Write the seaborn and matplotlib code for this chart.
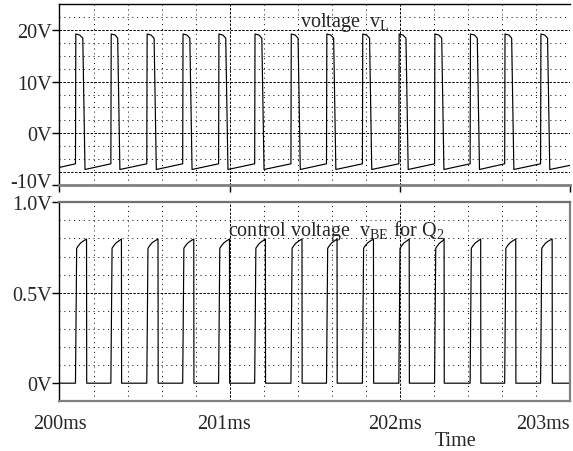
import numpy as np
import pandas as pd
import seaborn as sns
import matplotlib
matplotlib.use("Agg")
import matplotlib.pyplot as plt
from matplotlib import transforms

# ---------------- data ----------------
# pulse rise instants (ms)
rise_ms = [200.094, 200.302, 200.513, 200.724, 200.935, 201.147, 201.360,
           201.569, 201.780, 201.994, 202.204, 202.413, 202.616, 202.827]
# end of falling edge of v_L (ms)
vL_fall_ms = [200.150, 200.355, 200.569, 200.779, 200.990, 201.202, 201.415,
              201.624, 201.835, 202.049, 202.259, 202.468, 202.670, 202.881]
# end of v_BE pulse (ms)
vBE_fall_ms = [200.160, 200.365, 200.580, 200.790, 201.000, 201.211, 201.426,
               201.632, 201.846, 202.056, 202.261, 202.476, 202.682, 202.896]

# v_L levels (V)
vL_start = -6.6          # value at 200 ms
vL_end = -6.2            # value at 203 ms
vL_low_start = -7.0      # right after the falling edge
vL_low_end = -5.9        # just before the rising edge
vL_top = [19.2, 19.0, 18.4]   # plateau: start, middle, before fall
vL_top_dt = [0.002, 0.025]    # plateau timing after rise (ms)
vL_fall_dt = 0.013            # duration of falling edge (ms)

# v_BE pulse shape (V) and timing after rise (ms)
vBE_levels = [0.746, 0.760, 0.775, 0.786, 0.797]
vBE_dt = [0.007, 0.017, 0.030, 0.046]

x_ticks = [200, 201, 202, 203]
x_labels = ["200ms", "201ms", "202ms", "203ms"]
vL_ticks = [-10, 0, 10, 20]
vL_labels = ["-10V", "0V", "10V", "20V"]
vBE_ticks = [0.0, 0.5, 1.0]
vBE_labels = ["0V", "0.5V", "1.0V"]

# ---------------- build waveforms ----------------
tL, vL = [200.0], [vL_start]
for r, f in zip(rise_ms, vL_fall_ms):
    tL += [r, r + vL_top_dt[0], r + vL_top_dt[1], f - vL_fall_dt, f]
    vL += [vL_low_end, vL_top[0], vL_top[1], vL_top[2], vL_low_start]
tL.append(203.0)
vL.append(vL_end)
dfL = pd.DataFrame({"t": tL, "v": vL})

tB, vB = [200.0], [0.0]
for r, f in zip(rise_ms, vBE_fall_ms):
    tB += [r] + [r + d for d in vBE_dt] + [f - 0.001, f]
    vB += [0.0] + vBE_levels[:4] + [vBE_levels[4], 0.0]
tB.append(203.0)
vB.append(0.0)
dfB = pd.DataFrame({"t": tB, "v": vB})

# ---------------- styling ----------------
sns.set_theme(style="white")
plt.rcParams.update({
    "font.family": ["Liberation Serif", "DejaVu Serif"],
    "mathtext.fontset": "custom",
    "mathtext.rm": "Liberation Serif",
    "mathtext.it": "Liberation Serif:italic",
    "mathtext.bf": "Liberation Serif:bold",
    "axes.facecolor": "white",
    "figure.facecolor": "white",
})

FS = 14.5
fig = plt.figure(figsize=(5.73, 4.52), dpi=100)
ax1 = fig.add_axes([0.1038, 0.5885, 0.8910, 0.4004])
ax2 = fig.add_axes([0.1038, 0.1100, 0.8910, 0.4402])

major_kw = dict(color="black", lw=0.7, dashes=(2.5, 1.5), zorder=1)
minor_kw = dict(color="black", lw=0.7, dashes=(1.0, 4.0), zorder=1)

for ax in (ax1, ax2):
    ax.set_xlim(200, 203)
    for i in range(1, 15):
        xv = 200 + 0.2 * i
        if i % 5 == 0:
            ax.axvline(xv, **major_kw)
        else:
            ax.axvline(xv, **minor_kw)

# top panel horizontal grid
ax1.set_ylim(-10, 25)
for yv in [-7.5, -5, -2.5, 2.5, 5, 7.5, 12.5, 15, 17.5, 22.5]:
    if yv == -7.5:
        ax1.axhline(yv, **major_kw)
    else:
        ax1.axhline(yv, **minor_kw)
for yv in [0, 10, 20]:
    ax1.axhline(yv, **major_kw)

# bottom panel horizontal grid
ax2.set_ylim(-0.1, 1.0)
for k in range(1, 10):
    yv = k / 10
    if k == 5:
        ax2.axhline(yv, **major_kw)
    else:
        ax2.axhline(yv, **minor_kw)

sns.lineplot(data=dfL, x="t", y="v", ax=ax1, sort=False, estimator=None,
             color="black", lw=0.85, zorder=3)
sns.lineplot(data=dfB, x="t", y="v", ax=ax2, sort=False, estimator=None,
             color="black", lw=0.85, zorder=3)

for ax in (ax1, ax2):
    ax.set_xlabel("")
    ax.set_ylabel("")
    ax.grid(False)

# ticks top
ax1.set_xticks(x_ticks)
ax1.set_xticklabels([])
ax1.tick_params(axis="x", direction="out", length=5.2, width=1, color="black",
                bottom=True)
ax1.set_yticks(vL_ticks)
ax1.set_yticklabels(vL_labels, fontsize=FS)
ax1.tick_params(axis="y", direction="out", length=4.8, width=1, color="black",
                pad=0.5, left=True)
# shift the -10V label up slightly as in the reference
lab = ax1.get_yticklabels()[0]
lab.set_transform(lab.get_transform() +
                  transforms.ScaledTranslation(0, 5 / 100, fig.dpi_scale_trans))

# ticks bottom
ax2.set_xticks(x_ticks)
ax2.set_xticklabels(x_labels, fontsize=FS)
ax2.tick_params(axis="x", length=0, pad=9)
xl = ax2.get_xticklabels()
xl[-1].set_ha("right")
xl[1].set_transform(xl[1].get_transform() +
                    transforms.ScaledTranslation(-6 / 100, 0, fig.dpi_scale_trans))
xl[2].set_transform(xl[2].get_transform() +
                    transforms.ScaledTranslation(-5 / 100, 0, fig.dpi_scale_trans))
ax2.set_yticks(vBE_ticks)
ax2.set_yticklabels(vBE_labels, fontsize=FS)
ax2.tick_params(axis="y", direction="out", length=4.8, width=1, color="black",
                pad=0.5, left=True)

# spines
ax1.spines["left"].set(color="black", lw=1.0)
ax1.spines["top"].set(color="black", lw=1.0)
ax1.spines["bottom"].set(color="#808080", lw=2.0)
ax1.spines["right"].set_visible(False)
ax2.spines["left"].set(color="black", lw=1.0)
ax2.spines["top"].set(color="#707070", lw=1.6)
ax2.spines["bottom"].set(color="#808080", lw=1.6)
ax2.spines["right"].set(color="#808080", lw=1.6)
for ax in (ax1, ax2):
    for s in ax.spines.values():
        s.set_zorder(4)

# annotations
ax1.text(0.471, 0.877, r"voltage  v$_\mathrm{L}$", transform=ax1.transAxes,
         fontsize=FS, ha="left", va="baseline", zorder=5)
ax2.text(0.3295, 0.836, r"control voltage  v$_\mathrm{BE}$ for Q$_2$",
         transform=ax2.transAxes, fontsize=FS, ha="left", va="baseline", zorder=5)
ax2.text(0.775, -0.198, "Time", transform=ax2.transAxes, fontsize=FS,
         ha="center", va="center")

fig.savefig("out.png", dpi=100)
